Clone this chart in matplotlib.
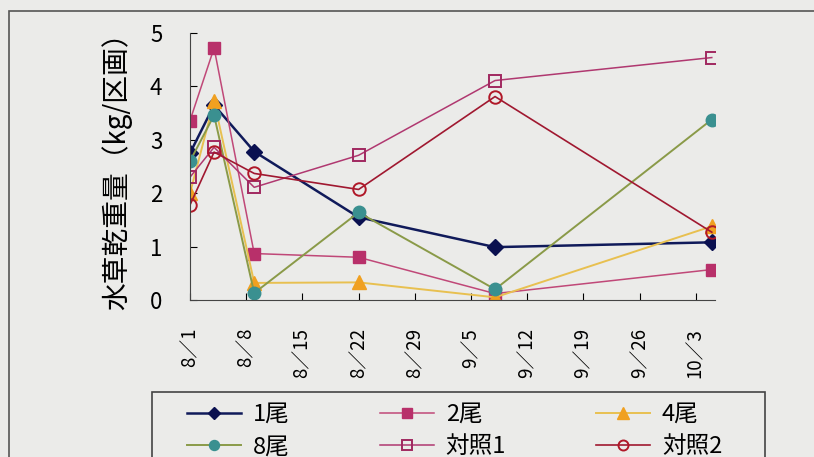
import pandas as pd
import matplotlib
matplotlib.use('Agg')
import matplotlib.pyplot as plt
from matplotlib.patches import Rectangle

plt.rcParams['font.family'] = ['Noto Sans CJK JP', 'DejaVu Sans']
narrow = ['Liberation Sans Narrow', 'Noto Sans CJK JP', 'DejaVu Sans']

# sampling dates and the weekly axis labels
sample_dates = ['8/1', '8/4', '8/9', '8/22', '9/8', '10/5']
tick_dates = ['8/1', '8/8', '8/15', '8/22', '8/29', '9/5', '9/12', '9/19', '9/26', '10/3']

# dry weight of water weeds (kg per plot)
fish1 = [2.75, 3.65, 2.78, 1.55, 0.99, 1.08]
fish2 = [3.36, 4.72, 0.87, 0.80, 0.12, 0.57]
fish4 = [2.00, 3.72, 0.32, 0.33, 0.05, 1.38]
fish8 = [2.60, 3.46, 0.13, 1.64, 0.20, 3.38]
control1 = [2.30, 2.86, 2.11, 2.71, 4.11, 4.54]
control2 = [1.78, 2.77, 2.37, 2.07, 3.81, 1.27]

start = pd.Timestamp('2000-08-01')


def to_days(labels):
    return [(pd.Timestamp('2000/' + s) - start).days for s in labels]


x = to_days(sample_dates)
xt = to_days(tick_dates)

bg = '#ebebe9'
fig = plt.figure(figsize=(8.14, 4.57), dpi=100, facecolor=bg)
ax = fig.add_axes([190 / 814, 1 - 300 / 457, 525 / 814, 267 / 457])
ax.set_facecolor(bg)

series = [
    (fish1, '1尾', dict(color='#101a5a', lw=1.8, marker='D', ms=8, mfc='#0a1050', mec='#0a1050')),
    (fish2, '2尾', dict(color='#c04878', lw=1.1, marker='s', ms=9, mfc='#b8306a', mec='#b8306a')),
    (fish4, '4尾', dict(color='#e8c050', lw=1.4, marker='^', ms=10, mfc='#f0a020', mec='#f0a020')),
    (fish8, '8尾', dict(color='#8a9a48', lw=1.4, marker='o', ms=9, mfc='#3a9090', mec='#3a9090')),
    (control1, '対照1', dict(color='#b03870', lw=1.1, marker='s', ms=9, mfc='none', mec='#a02860', mew=1.4)),
    (control2, '対照2', dict(color='#a01830', lw=1.2, marker='o', ms=9, mfc='none', mec='#b01828', mew=1.4)),
]

lines = []
for vals, name, style in series:
    ln, = ax.plot(x, vals, label=name, **style)
    lines.append(ln)

ax.set_ylim(0, 5)
ax.set_xlim(0, 65.4)
ax.set_yticks(range(6))
ax.set_yticklabels([str(v) for v in range(6)], family=narrow, fontsize=16)
ax.set_xticks(xt)
ax.set_xticklabels([t.replace('/', '／') for t in tick_dates], rotation=90,
                   family=narrow, fontsize=13.5)
ax.tick_params(axis='y', direction='in', length=5, pad=20)
ax.tick_params(axis='x', direction='in', length=5, pad=20)
ax.spines['top'].set_visible(False)
ax.spines['right'].set_visible(False)
for side in ['left', 'bottom']:
    ax.spines[side].set_color('#444444')
ax.set_ylabel('水草乾重量（kg/区画）', fontsize=20)
ax.yaxis.set_label_coords(-0.11, 0.51)

# outer chart frame and legend frame, running off the page like the scan
fig.patches.append(Rectangle((9 / 814, -0.1), 1.2, 1 - 11 / 457 + 0.1,
                             transform=fig.transFigure, fill=False, ec='#555555', lw=1.2))
fig.patches.append(Rectangle((152 / 814, -0.1), (765 - 152) / 814, 1 - 392 / 457 + 0.1,
                             transform=fig.transFigure, fill=False, ec='#444444', lw=1.2))

# legend filled row by row: 1, 2, 4 on top, 8, control1, control2 below
order = [0, 3, 1, 4, 2, 5]
leg = fig.legend(handles=[lines[i] for i in order], ncol=3, loc='upper left',
                 bbox_to_anchor=(187 / 814, 1 - 403 / 457), frameon=False,
                 prop={'family': narrow, 'size': 17}, handlelength=2.3, handletextpad=0.5,
                 columnspacing=3.8, labelspacing=0.4, borderpad=0, borderaxespad=0,
                 markerscale=0.8)

fig.savefig('out.png', dpi=100, facecolor=bg)
